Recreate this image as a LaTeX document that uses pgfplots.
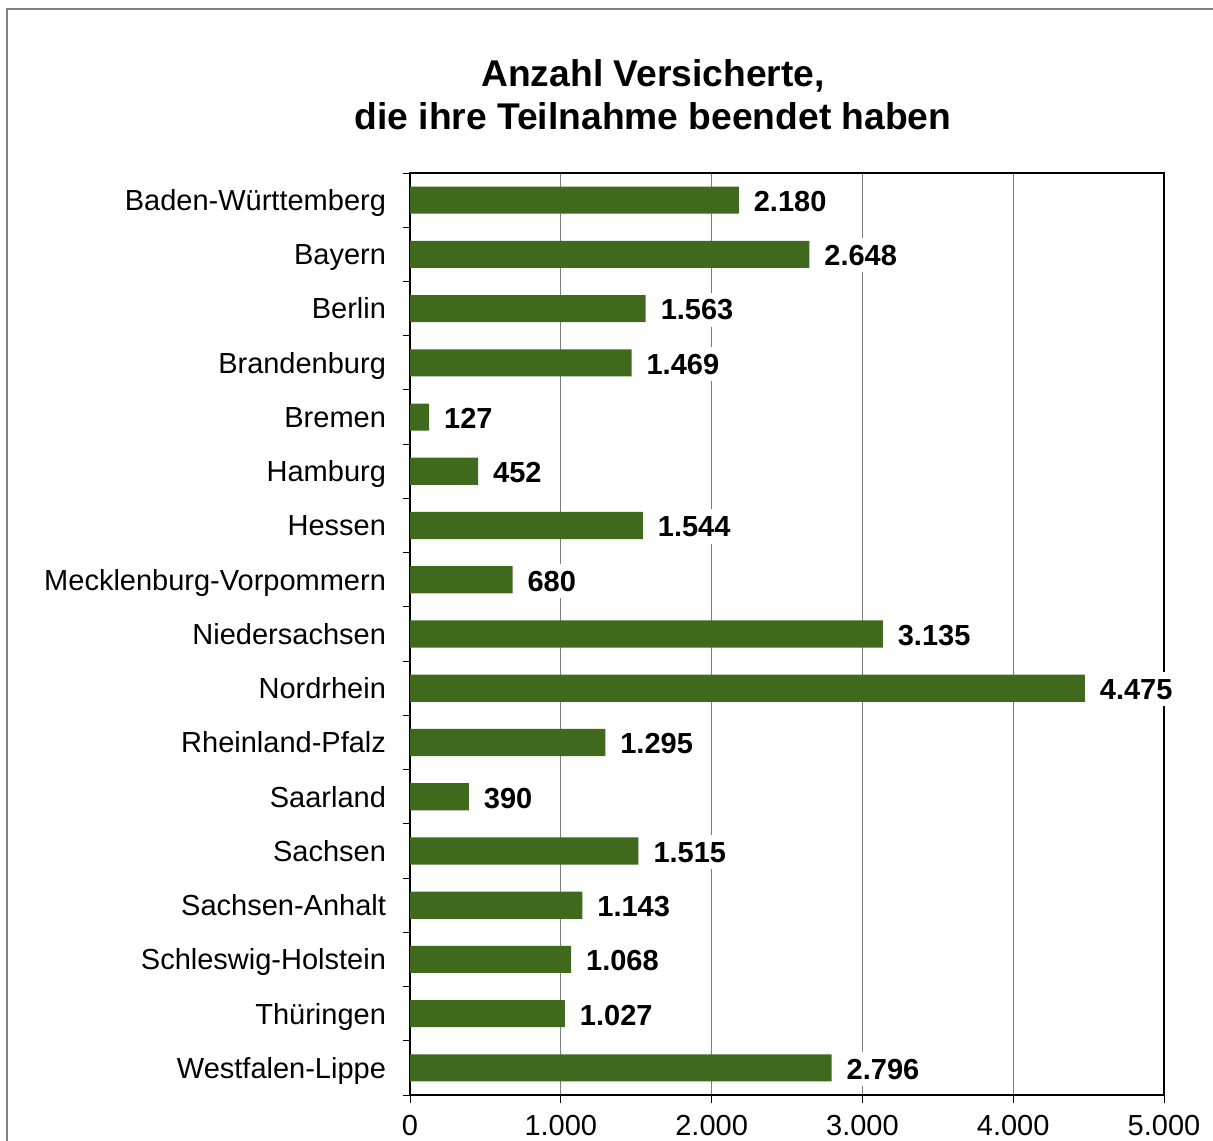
\documentclass[border=0pt]{standalone}
\usepackage{pgfplots}
\pgfplotsset{compat=1.18}
\usepackage{fontspec}
\setmainfont{Liberation Sans}
\definecolor{bargreen}{RGB}{63,106,30}
\definecolor{gridgray}{RGB}{125,125,125}
\begin{document}
\begin{tikzpicture}
\useasboundingbox (0,0) rectangle (606.5pt,570pt);
\clip (0,0) rectangle (606.5pt,570pt);
% outer frame, cut at right and bottom like the original
\draw[gray, line width=0.6pt] (3.5pt,-20pt) -- (3.5pt,565.5pt) -- (700pt,565.5pt);
\node[font=\bfseries\fontsize{18.6}{21.5}\selectfont, align=center] at (326.5pt,522.5pt)
  {Anzahl Versicherte,\\die ihre Teilnahme beendet haben};
\begin{axis}[
    at={(205pt,22.5pt)}, anchor=south west,
    scale only axis, width=377pt, height=461pt,
    xbar, bar width=0.5,
    xmin=0, xmax=5000,
    ymin=-0.5, ymax=16.5,
    y dir=reverse,
    xtick={0,1000,...,5000},
    scaled x ticks=false,
    /pgf/number format/assume math mode=true,
    xticklabel style={/pgf/number format/1000 sep={.}},
    ytick={0,...,16},
    yticklabels={Baden-Württemberg,Bayern,Berlin,Brandenburg,Bremen,Hamburg,Hessen,Mecklenburg-Vorpommern,Niedersachsen,Nordrhein,Rheinland-Pfalz,Saarland,Sachsen,Sachsen-Anhalt,Schleswig-Holstein,Thüringen,Westfalen-Lippe},
    minor ytick={-0.5,0.5,...,16.5},
    major y tick style={draw=none},
    tick pos=left,
    tick align=outside,
    major tick length=4pt,
    minor tick length=3.5pt,
    tick style={black, line width=0.5pt},
    xmajorgrids,
    grid style={gridgray, line width=0.5pt},
    axis line style={line width=1pt},
    tick label style={font=\fontsize{14.5}{17}\selectfont},
    xticklabel style={yshift=-2.8pt},
    yticklabel style={xshift=-4.5pt, text height=10.4pt, text depth=0pt},
    point meta=x,
    nodes near coords={\pgfmathprintnumber[1000 sep={.}]{\pgfplotspointmeta}},
    every node near coord/.append style={anchor=west, xshift=4pt, fill=white,
      text height=10.4pt, text depth=0pt, yshift=-0.5pt,
      font=\bfseries\fontsize{14.5}{17}\selectfont},
]
\addplot[fill=bargreen, draw=none] coordinates {
(2180,0) (2648,1) (1563,2) (1469,3) (127,4) (452,5) (1544,6) (680,7)
(3135,8) (4475,9) (1295,10) (390,11) (1515,12) (1143,13) (1068,14) (1027,15) (2796,16)
};
\end{axis}
\end{tikzpicture}
\end{document}
